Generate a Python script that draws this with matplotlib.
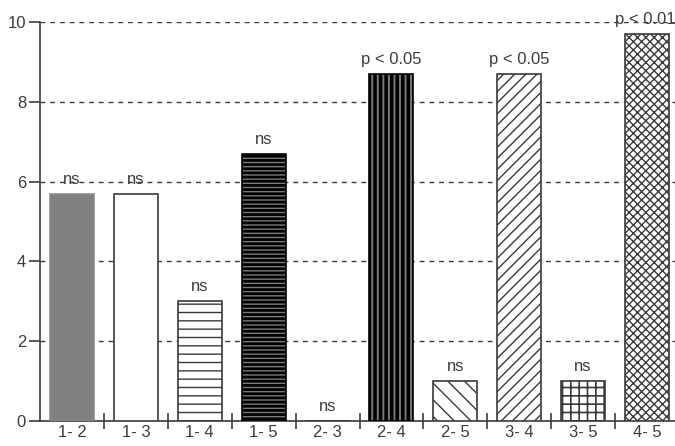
import matplotlib
matplotlib.use("Agg")
import matplotlib.pyplot as plt
import numpy as np

plt.rcParams['font.family'] = ['Liberation Sans', 'DejaVu Sans']

# Pairwise comparisons and their values
pairs = ["1- 2", "1- 3", "1- 4", "1- 5", "2- 3", "2- 4", "2- 5", "3- 4", "3- 5", "4- 5"]
values = [5.7, 5.7, 3.0, 6.7, 0.0, 8.7, 1.0, 8.7, 1.0, 9.7]
significance = ["ns", "ns", "ns", "ns", "ns", "p < 0.05", "ns", "p < 0.05", "ns", "p < 0.01"]
yticks = [0, 2, 4, 6, 8, 10]

# Fill / hatch style per bar: (facecolor, edgecolor, hatch, hatch linewidth)
styles = [
    ("#808080", "#8a8a8a", None, 1.0),
    ("white", "#3a3a3a", None, 1.0),
    ("white", "#3a3a3a", "--", 1.0),
    ("#7a7a7a", "black", "----", 2.0),
    ("white", "#3a3a3a", None, 1.0),
    ("#7a7a7a", "black", "|||", 2.6),
    ("white", "#3a3a3a", "\\\\", 1.0),
    ("white", "#3a3a3a", "///", 1.0),
    ("white", "#3a3a3a", "++", 1.2),
    ("white", "#3a3a3a", "xxxx", 1.0),
]

dark = "#3c3c3c"
fig = plt.figure(figsize=(6.75, 4.46), dpi=100)
ax = fig.add_axes([40 / 675, 25 / 446, 639 / 675, 399 / 446])

x = np.arange(len(pairs))
for xi, v, (fc, ec, hatch, hlw) in zip(x, values, styles):
    with plt.rc_context({'hatch.linewidth': hlw}):
        bar = ax.bar(xi, v, width=0.69, color=fc, edgecolor=ec,
                     linewidth=1.2, hatch=hatch, zorder=3)[0]
        if hasattr(bar, "set_hatch_linewidth"):
            bar.set_hatch_linewidth(hlw)

for xi, v, s in zip(x, values, significance):
    ax.annotate(s, (xi, v), xytext=(-1.5 if xi == len(pairs) - 1 else 0, 5),
                textcoords="offset points", ha="center", va="bottom",
                fontsize=12, color=dark, annotation_clip=False, zorder=5)

ax.set_xlim(-0.5, len(pairs) - 0.5)
ax.set_ylim(0, 10)
ax.set_yticks(yticks)
ax.set_yticklabels([str(t) for t in yticks])
ax.set_xticks(x)
ax.set_xticklabels(pairs)
ax.set_xticks(np.arange(len(pairs) - 1) + 0.5, minor=True)

ax.yaxis.grid(True, linestyle=(0, (3.5, 3.5)), color=dark, linewidth=1.0, zorder=0)
ax.set_axisbelow(True)

for side in ("top", "right"):
    ax.spines[side].set_visible(False)
for side in ("left", "bottom"):
    ax.spines[side].set_color(dark)
    ax.spines[side].set_linewidth(1.2)

ax.tick_params(axis="y", direction="out", length=8, width=1.2, color=dark,
               labelsize=12, labelcolor=dark, pad=2)
ax.tick_params(axis="x", which="major", length=0, labelsize=12,
               labelcolor=dark, pad=3)
ax.tick_params(axis="x", which="minor", direction="inout", length=12,
               width=1.2, color=dark)

fig.savefig("out.png", dpi=100)
